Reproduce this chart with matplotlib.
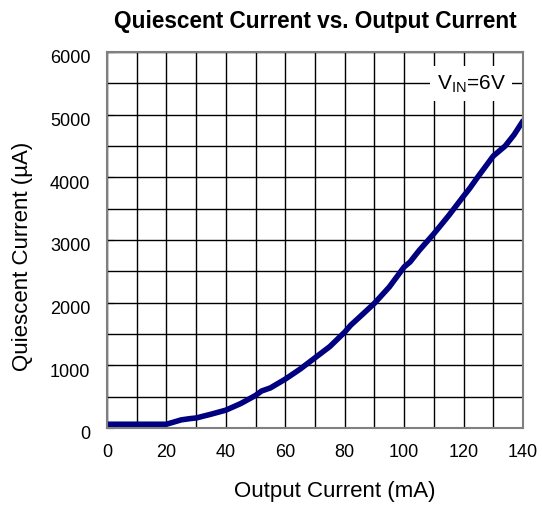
import numpy as np
import matplotlib.pyplot as plt
from matplotlib.transforms import ScaledTranslation

plt.rcParams['font.family'] = ['Liberation Sans', 'DejaVu Sans']

# output current (mA) and quiescent current (uA)
i_out = [0, 5, 10, 15, 20, 25, 28, 30, 35, 40, 45, 50, 52, 55, 60, 65, 70, 75,
         80, 82, 85, 90, 95, 100, 102, 105, 110, 115, 120, 122, 125, 130, 134, 137, 140]
i_q = [60, 60, 60, 60, 60, 130, 150, 160, 220, 285, 390, 520, 590, 640, 780, 940,
       1120, 1300, 1530, 1640, 1770, 1990, 2250, 2570, 2650, 2830, 3100, 3390, 3700,
       3820, 4020, 4340, 4500, 4680, 4900]

xticks = np.arange(0, 141, 20)
yticks = np.arange(0, 6001, 1000)

fig = plt.figure(figsize=(5.42, 5.06), dpi=100)
ax = fig.add_axes([107 / 542, 1 - 429 / 506, 416 / 542, 376 / 506])

ax.plot(i_out, i_q, color='#000080', lw=4, solid_capstyle='round', zorder=3)

ax.set_xlim(0, 140)
ax.set_ylim(0, 6000)
ax.set_xticks(xticks)
ax.set_yticks(yticks)
ax.set_xticks(np.arange(0, 141, 10), minor=True)
ax.set_yticks(np.arange(0, 6001, 500), minor=True)
ax.grid(which='both', color='black', lw=1)
ax.tick_params(which='both', length=0, labelsize=13)
ax.tick_params(axis='y', which='major', direction='in', length=5, color='black', pad=12)
ax.tick_params(axis='x', pad=11)
for s in ax.spines.values():
    s.set_color('#808080')
    s.set_linewidth(1.5)
    s.set_zorder(4)

# y labels sit a little below their grid lines in the original
shift = ScaledTranslation(0, -4 / 100, fig.dpi_scale_trans)
for lbl in ax.get_yticklabels():
    lbl.set_transform(lbl.get_transform() + shift)

ax.text(122.5, 5500, r'V$_{\mathregular{IN}}$=6V', fontsize=15, ha='center', va='center',
        bbox=dict(facecolor='white', edgecolor='none', pad=5), zorder=5)

ax.set_title('Quiescent Current vs. Output Current', fontsize=16.3, fontweight='bold', pad=18)
ax.set_xlabel('Output Current (mA)', fontsize=16)
ax.xaxis.label.set_va('baseline')
ax.xaxis.set_label_coords((335 - 107) / 416, -68 / 376)
ax.set_ylabel('Quiescent Current (\u00b5A)', fontsize=16)
ax.yaxis.set_label_coords(-74 / 416, (429 - 256) / 376)

fig.savefig('out.png', dpi=100)
